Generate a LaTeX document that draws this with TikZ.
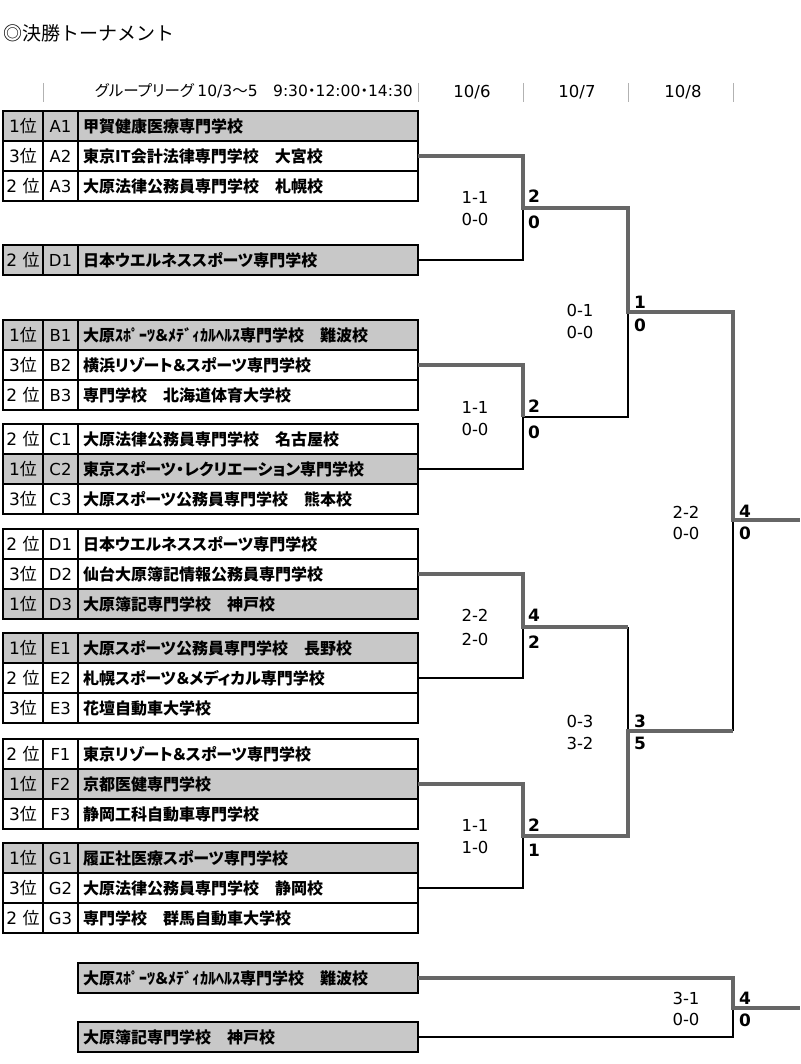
\documentclass[tikz,border=0pt]{standalone}
\usepackage{fontspec}
\setmainfont{Noto Sans CJK JP}[RawFeature=+palt]
\newfontfamily\jpf{Noto Sans CJK JP}
\newfontfamily\dv{DejaVu Sans}
\usetikzlibrary{positioning}
\definecolor{shade}{HTML}{C8C8C8}
\definecolor{winline}{HTML}{666666}
\tikzset{
  cell/.style={draw,line width=1.5pt,minimum height=30pt,inner sep=0pt,outer sep=0pt},
  rankbox/.style={cell,minimum width=40pt,font=\fontsize{17}{17}\selectfont},
  grpbox/.style={cell,minimum width=35pt,font=\dv\fontsize{16.5}{16.5}\selectfont},
  namebox/.style={cell,minimum width=340pt,text width=330pt,align=left,font=\bfseries\fontsize{16}{16}\selectfont},
  win/.style={winline,line width=4pt},
  lose/.style={black,line width=1.3pt},
  pts/.style={font=\dv\bfseries\fontsize{17}{17}\selectfont,anchor=west,inner sep=0pt},
  res/.style={font=\dv\fontsize{16.5}{16.5}\selectfont,inner sep=0pt}
}
\begin{document}
\begin{tikzpicture}[x=1pt,y=-1pt]
\useasboundingbox (0,0) rectangle (800,1064);
\node[anchor=west,inner sep=0pt,font=\jpf\fontsize{19}{19}\selectfont] (title) at (3,33) {◎決勝トーナメント};
\node[anchor=east,inner sep=0pt,font=\fontsize{15.5}{15.5}\selectfont] (hdr) at (413,91) {グループリーグ {\dv 10/3}～{\dv 5}\quad{\dv 9:30}・{\dv 12:00}・{\dv 14:30}};
\foreach \x/\d in {472/6,577/7,683/8} \node[font=\dv\fontsize{16.5}{16.5}\selectfont] (day\d) at (\x,92) {10/\d};
\foreach \x in {43,418,523,628,733} \draw[gray!60,line width=0.8pt] (\x,83) -- (\x,102);

\foreach \k/\rk/\g/\y/\sch/\bg in {
  A1/1/A1/126/甲賀健康医療専門学校/shade,
  A2/3/A2/156/東京IT会計法律専門学校　大宮校/white,
  A3/2~/A3/186/大原法律公務員専門学校　札幌校/white,
  Dx/2~/D1/260/日本ウエルネススポーツ専門学校/shade,
  B1/1/B1/335/大原ｽﾎﾟｰﾂ＆ﾒﾃﾞｨｶﾙﾍﾙｽ専門学校　難波校/shade,
  B2/3/B2/365/横浜リゾート＆スポーツ専門学校/white,
  B3/2~/B3/395/専門学校　北海道体育大学校/white,
  C1/2~/C1/439/大原法律公務員専門学校　名古屋校/white,
  C2/1/C2/469/東京スポーツ・レクリエーション専門学校/shade,
  C3/3/C3/499/大原スポーツ公務員専門学校　熊本校/white,
  D1/2~/D1/544/日本ウエルネススポーツ専門学校/white,
  D2/3/D2/574/仙台大原簿記情報公務員専門学校/white,
  D3/1/D3/604/大原簿記専門学校　神戸校/shade,
  E1/1/E1/648/大原スポーツ公務員専門学校　長野校/shade,
  E2/2~/E2/678/札幌スポーツ＆メディカル専門学校/white,
  E3/3/E3/708/花壇自動車大学校/white,
  F1/2~/F1/754/東京リゾート＆スポーツ専門学校/white,
  F2/1/F2/784/京都医健専門学校/shade,
  F3/3/F3/814/静岡工科自動車専門学校/white,
  G1/1/G1/858/履正社医療スポーツ専門学校/shade,
  G2/3/G2/888/大原法律公務員専門学校　静岡校/white,
  G3/2~/G3/918/専門学校　群馬自動車大学校/white}{
  \node[rankbox,fill=\bg] (r\k) at (23,\y) {{\dv\rk}位};
  \node[grpbox,fill=\bg,right=0pt of r\k] (g\k) {\g};
  \node[namebox,fill=\bg,right=0pt of g\k] (n\k) {\sch};
}
\node[namebox,fill=shade] (nX1) at (248,978) {大原ｽﾎﾟｰﾂ＆ﾒﾃﾞｨｶﾙﾍﾙｽ専門学校　難波校};
\node[namebox,fill=shade] (nX2) at (248,1037) {大原簿記専門学校　神戸校};

\coordinate (m1) at (523,208);
\coordinate (m2) at (523,417);
\coordinate (m3) at (523,627);
\coordinate (m4) at (523,836);
\coordinate (q1) at (628,312);
\coordinate (q2) at (628,731);
\coordinate (f1) at (733,520);
\coordinate (f2) at (733,1008);
\coordinate (end1) at (800,520);
\coordinate (end2) at (800,1008);

\draw[lose] (nDx.east) -| (m1);
\draw[lose] (nC2.east) -| (m2) -| (q1);
\draw[lose] (nE2.east) -| (m3);
\draw[lose] (m3 -| q2) -- (q2);
\draw[lose] (nG2.east) -| (m4);
\draw[lose] (q2 -| f1) -- (f1);
\draw[lose] (nX2.east) -| (f2);

\draw[win] (nA2.east) -| (m1) -| (q1) -| (f1) -- (end1);
\draw[win] (nB2.east) -| (m2);
\draw[win] (nD2.east) -| (m3) -- (m3 -| q2);
\draw[win] (nF2.east) -| (m4) -| (q2) -- (q2 -| f1);
\draw[win] (nX1.east) -| (f2) -- (end2);

\foreach \n/\x/\y/\t in {1a/475/197/1-1,1b/475/219/0-0,2a/475/407/1-1,2b/475/429/0-0,
  3a/580/310/0-1,3b/580/332/0-0,4a/686/512/2-2,4b/686/533/0-0,
  5a/475/615/2-2,5b/475/639/2-0,6a/580/721/0-3,6b/580/743/3-2,
  7a/475/825/1-1,7b/475/847/1-0,8a/686/998/3-1,8b/686/1019/0-0}
  \node[res] (s\n) at (\x,\y) {\t};
\foreach \n/\x/\y/\t in {1a/528/196/2,1b/528/222/0,2a/528/406/2,2b/528/432/0,
  3a/634/302/1,3b/634/325/0,4a/739/511/4,4b/739/533/0,
  5a/528/615/4,5b/528/642/2,6a/634/721/3,6b/634/743/5,
  7a/528/825/2,7b/528/850/1,8a/739/998/4,8b/739/1020/0}
  \node[pts] (p\n) at (\x,\y) {\t};
\end{tikzpicture}
\end{document}
